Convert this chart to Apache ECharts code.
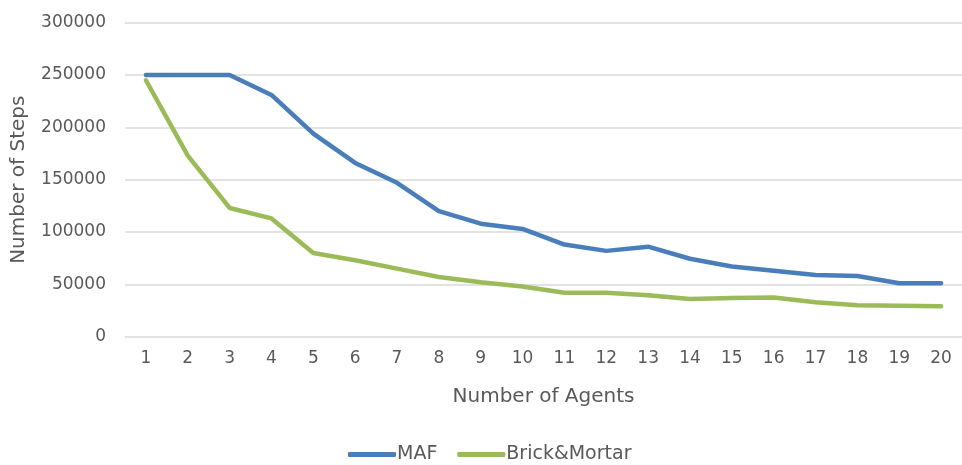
<!DOCTYPE html>
<html>
<head>
<meta charset="utf-8">
<script src="https://cdn.jsdelivr.net/npm/echarts@6/dist/echarts.min.js"></script>
<style>
  html, body { margin: 0; padding: 0; background: #fff; }
  #chart { width: 962px; height: 465px; }
</style>
</head>
<body>
<div id="chart"></div>
<script>
const agents = ["1", "2", "3", "4", "5", "6", "7", "8", "9", "10", "11", "12", "13", "14", "15", "16", "17", "18", "19", "20"];
const maf = [250000, 250000, 250000, 231000, 194000, 166000, 147000, 120000, 108000, 103000, 88000, 82000, 86000, 74500, 67000, 63000, 59000, 58000, 51000, 51000];
const brickMortar = [245000, 173000, 123000, 113000, 80000, 73000, 65000, 57000, 52000, 48000, 42000, 42000, 39500, 36000, 37000, 37500, 33000, 30000, 29500, 29000];

const textColor = "#595959";
const font = "'DejaVu Sans', sans-serif";

const chart = echarts.init(document.getElementById("chart"));
const option = {
  animation: false,
  textStyle: { fontFamily: font },
  grid: {
    left: 125,
    right: -5,
    top: 22.7,
    bottom: 128.3
  },
  legend: {
    top: 440,
    left: 343,
    itemWidth: 48,
    itemHeight: 5,
    itemGap: 20,
    icon: "roundRect",
    textStyle: { color: textColor, fontSize: 19, fontFamily: font, padding: [0, 0, 0, -4] },
    data: ["MAF", "Brick&Mortar"]
  },
  xAxis: {
    type: "category",
    data: agents,
    boundaryGap: true,
    name: "Number of Agents",
    nameLocation: "middle",
    nameGap: 50,
    nameTextStyle: { color: textColor, fontSize: 20, fontFamily: font },
    axisLine: { show: false },
    axisTick: { show: false },
    axisLabel: { color: textColor, fontSize: 17, margin: 13, fontFamily: font }
  },
  yAxis: {
    type: "value",
    min: 0,
    max: 300000,
    interval: 50000,
    name: "Number of Steps",
    nameLocation: "middle",
    nameGap: 96,
    nameTextStyle: { color: textColor, fontSize: 20, fontFamily: font },
    axisLine: { show: false },
    axisTick: { show: false },
    axisLabel: { color: textColor, fontSize: 17, margin: 19, fontFamily: font, formatter: (v) => String(v) },
    splitLine: { lineStyle: { color: "#d9d9d9", width: 1.5 } }
  },
  series: [
    {
      name: "MAF",
      type: "line",
      data: maf,
      symbol: "none",
      color: "#4a7ebb",
      lineStyle: { width: 4.5, cap: "round", join: "round" }
    },
    {
      name: "Brick&Mortar",
      type: "line",
      data: brickMortar,
      symbol: "none",
      color: "#9bbb59",
      lineStyle: { width: 4.5, cap: "round", join: "round" }
    }
  ]
};
chart.setOption(option);
</script>
</body>
</html>
